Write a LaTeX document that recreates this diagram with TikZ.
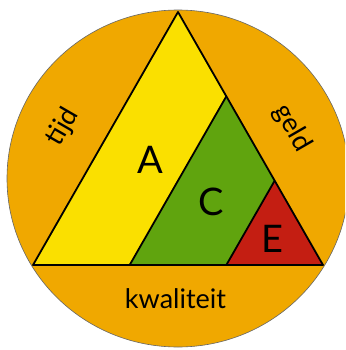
\documentclass[tikz,border=0pt]{standalone}
\usepackage{fontspec}
\setmainfont{Lato}
\usepackage{xcolor}
\usepackage{tikz}
\usetikzlibrary{calc}

\definecolor{ringorange}{RGB}{240,168,0}
\definecolor{ayellow}{RGB}{250,224,0}
\definecolor{cgreen}{RGB}{96,164,14}
\definecolor{ered}{RGB}{196,30,18}

\begin{document}
\begin{tikzpicture}[x=1pt, y=-1pt,
        edge/.style={draw=black, line width=1.8pt, line join=round},
        letter/.style={anchor=base, font=\fontsize{38}{38}\selectfont},
        side/.style={font=\fontsize{27}{27}\selectfont}]
        \clip (0,0) rectangle (345,350);

        % outer ring
        \fill[ringorange, draw=black!60, line width=0.6pt] (178,178.5) ellipse [x radius=171, y radius=168.5];

        \coordinate (bl) at (33,265);
        \coordinate (br) at (323,265);
        \coordinate (top) at (178,12);
        \coordinate (gl) at ($(br)!2/3!(bl)$);
        \coordinate (gt) at ($(br)!2/3!(top)$);
        \coordinate (rl) at ($(br)!1/3!(bl)$);
        \coordinate (rt) at ($(br)!1/3!(top)$);

        \fill[ayellow] (bl) -- (br) -- (top) -- cycle;
        \fill[cgreen] (gl) -- (br) -- (gt) -- cycle;
        \fill[ered] (rl) -- (br) -- (rt) -- cycle;

        \draw[edge] (gl) -- (gt);
        \draw[edge] (rl) -- (rt);
        \draw[edge] (bl) -- (br) -- (top) -- cycle;

        \node[letter] (a) at (150,173) {A};
        \node[letter] (c) at (211,215) {C};
        \node[letter] (e) at (272.5,252) {E};

        \node[side, rotate=60] (tijd) at (63,127) {tijd};
        \node[side, rotate=-60] (geld) at (292,128) {geld};
        \node[side, anchor=base] (kwaliteit) at (175.5,308) {kwaliteit};
\end{tikzpicture}
\end{document}
